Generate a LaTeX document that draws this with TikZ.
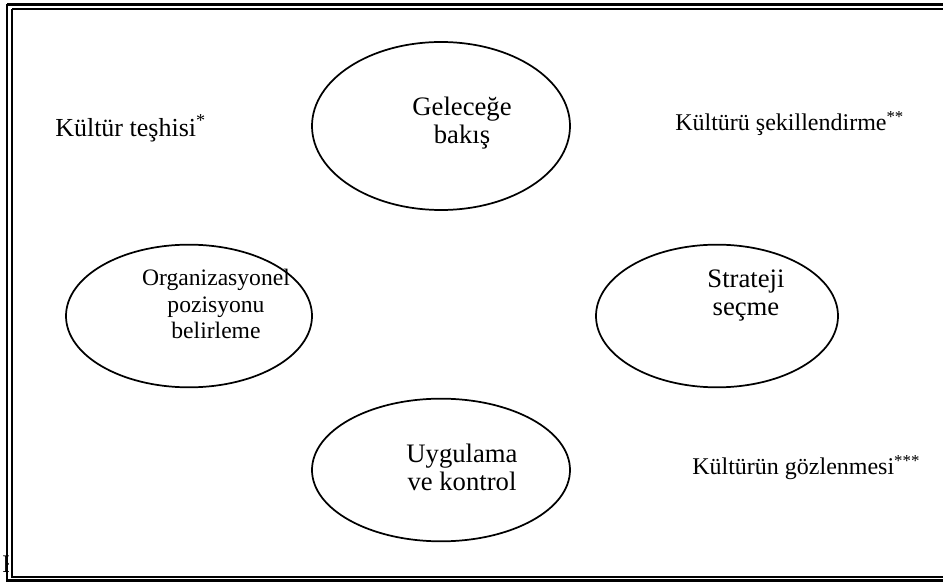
\documentclass[tikz,border=0pt]{standalone}
\usepackage{fontspec}
\setmainfont{Liberation Serif}
\usetikzlibrary{shapes.geometric}
\tikzset{
	evre/.style={draw,ellipse,line width=1.3pt,inner sep=0pt},
	evreyazi/.style={align=center,inner sep=0pt,font=\fontsize{20}{21}\selectfont},
	kultur/.style={anchor=base west,inner sep=0pt,font=\fontsize{18}{20}\selectfont},
}
\begin{document}
\begin{tikzpicture}[x=0.75pt,y=-0.75pt]
	\useasboundingbox (0,0) rectangle (943,584);
	\node[anchor=base west,inner sep=0pt,font=\fontsize{19}{20}\selectfont] (kaynak) at (2,572) {K};%abgeschnittener Buchstabe
	\fill[white] (9,6) rectangle (960,580);%Innenflaeche
	\draw[line width=2.2pt] (7,4.5) -- (7,580.5) -- (960,580.5);%Rahmen aussen
	\draw[line width=2.2pt] (7,4.5) -- (960,4.5);
	\draw[line width=1.5pt] (12,9.5) -- (12,577) -- (960,577);%Rahmen innen
	\draw[line width=1.5pt] (12,9.5) -- (960,9.5);
	% Ellipsen
	\node[evre,minimum width=193.5pt,minimum height=126pt] (gelecek) at (441,126) {};
	\node[evre,minimum width=184.5pt,minimum height=107pt] (orgpoz) at (189,316) {};
	\node[evre,minimum width=181.5pt,minimum height=107pt] (strateji) at (717,316) {};
	\node[evre,minimum width=193.5pt,minimum height=107pt] (uygulama) at (441,470) {};
	% Texte in den Ellipsen
	\node[evreyazi] (gelecekyazi) at (462,123.5) {Geleceğe\\bakış};
	\node[evreyazi,font=\fontsize{17.7}{20}\selectfont] (orgpozyazi) at (216,304) {Organizasyonel\\pozisyonu\\belirleme};
	\node[evreyazi] (stratejiyazi) at (746,296) {Strateji\\seçme};
	\node[evreyazi] (uygulamayazi) at (462,467) {Uygulama\\ve kontrol};
	% Texte aussen
	\node[kultur,font=\fontsize{19.5}{21}\selectfont] (teshis) at (55,137) {Kültür teşhisi\textsuperscript{*}};
	\node[kultur] (sekil) at (675,131) {Kültürü şekillendirme\textsuperscript{**}};
	\node[kultur] (gozlem) at (692,475) {Kültürün gözlenmesi\textsuperscript{***}};
\end{tikzpicture}
\end{document}
